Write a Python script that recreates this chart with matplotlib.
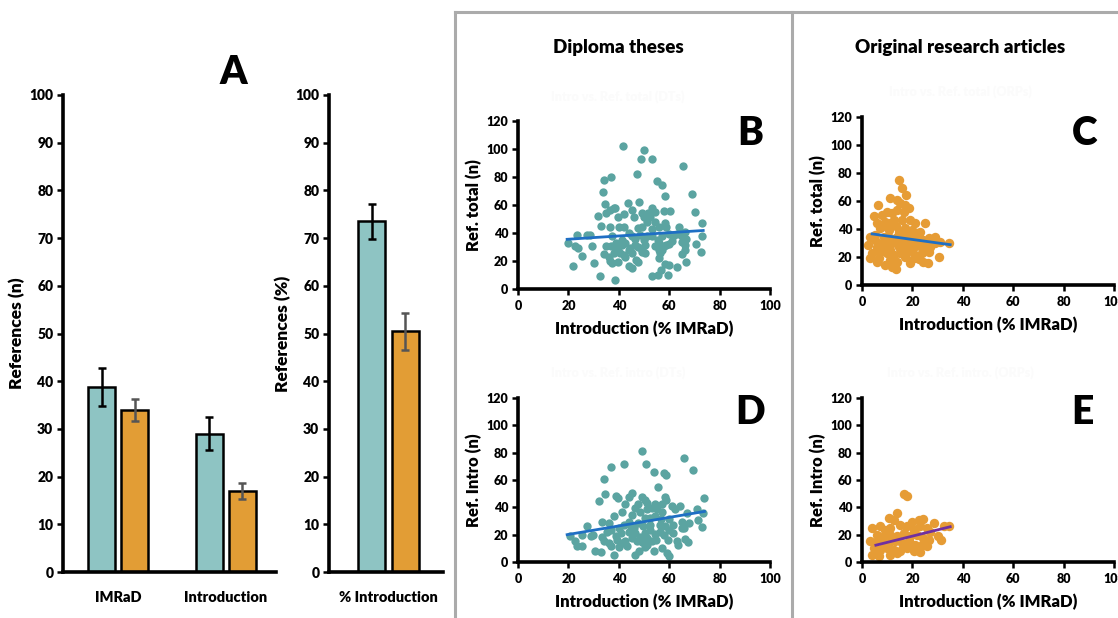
import matplotlib.pyplot as plt
from matplotlib.lines import Line2D

plt.rcParams['font.family'] = ['Lato', 'DejaVu Sans']
plt.rcParams['font.weight'] = 'heavy'
plt.rcParams['axes.labelweight'] = 'heavy'

# --- panel A: bar chart data ---
groups = ['IMRaD', 'Introduction']
dt_counts = [38.7, 29.0]
dt_err = [4.0, 3.5]
orp_counts = [34.0, 17.0]
orp_err = [2.3, 1.7]
pct_label = ['% Introduction']
dt_pct = [73.5]
dt_pct_err = [3.6]
orp_pct = [50.5]
orp_pct_err = [3.9]

# --- panel B: intro % vs total refs (diploma theses) ---
b_x = [41.7, 50.1, 48.8, 53.3, 65.3, 47.1, 37.1, 34.3, 55.0, 57.1, 33.8, 69.0, 58.4, 48.2, 43.7, 34.7,
       35.1, 36.7, 37.9, 38.3, 39.6, 42.1, 45.2, 45.9, 49.2, 49.9, 51.5, 53.0, 54.2, 58.1, 58.4, 60.4,
       70.3, 54.5, 51.1, 52.2, 31.9, 33.0, 36.7, 40.0, 42.0, 47.6, 49.3, 53.2, 56.1, 58.8, 64.0, 73.2,
       66.4, 23.6, 27.4, 28.5, 37.3, 41.3, 43.9, 45.2, 46.3, 48.5, 49.9, 51.2, 53.2, 55.4, 57.1, 59.8,
       61.7, 63.1, 65.0, 66.6, 73.0, 65.0, 61.3, 56.1, 59.8, 19.8, 22.8, 23.7, 29.4, 35.0, 37.1, 38.7,
       40.0, 41.3, 42.6, 44.6, 46.6, 47.6, 49.2, 50.5, 70.6, 66.4, 54.5, 55.8, 57.8, 58.8, 25.2, 34.3,
       36.0, 38.0, 39.3, 40.6, 42.0, 42.6, 43.9, 45.2, 49.2, 50.5, 56.5, 57.1, 65.0, 66.4, 72.6, 36.4,
       37.2, 39.7, 30.1, 21.9, 43.9, 45.2, 47.0, 47.6, 55.8, 58.4, 59.8, 62.9, 66.8, 56.9, 32.7, 38.4,
       53.3, 55.5, 59.4]
b_y = [102, 99, 93, 93, 88, 82, 80, 78, 77, 74, 69.5, 67.5, 66.4, 62.4, 61.2, 60.5,
       54.5, 56.4, 57.6, 58, 51.7, 53.4, 56.4, 51.7, 54, 51.7, 54.5, 57.6, 55.3, 55.7, 47, 56,
       55.3, 48.1, 48.1, 51.2, 52.2, 45, 44.6, 44.1, 44.6, 43.4, 44.6, 42.7, 44.6, 44.6, 44.6, 47.4,
       41, 38.7, 38.7, 38.7, 37.5, 35.1, 39.8, 37.5, 35.6, 38.7, 35.1, 37.5, 37.5, 35.1, 37.5, 39.4,
       37.5, 39.4, 37.5, 36, 37.5, 33.9, 34.4, 32.7, 32, 32.5, 30.8, 29.6, 30.6, 30.4, 30.4, 32.7,
       30.4, 31.5, 32.7, 29.2, 31.5, 29.9, 28, 31.5, 31.8, 31.5, 30.4, 28, 30.4, 31.5, 23.7, 25.1,
       23.2, 25.6, 27.5, 25.6, 24, 23.2, 28, 25.6, 26.1, 25.6, 25.6, 28, 24.9, 27.5, 26.6, 19.7,
       18.5, 19, 18.5, 16.6, 16.6, 14.9, 20.9, 19.4, 21.8, 18, 16.8, 15.7, 19.4, 13.3, 9.2, 6.6,
       9, 10.2, 10.2]

# --- panel C: intro % vs total refs (original research articles) ---
c_x = [14.5, 15.9, 17.6, 11.0, 13.9, 15.2, 17.2, 18.5, 6.2, 4.6, 7.9, 9.9, 11.9, 13.9, 16.6, 12.6,
       9.0, 5.9, 15.9, 19.2, 21.2, 25.1, 7.3, 10.6, 13.6, 17.2, 19.8, 21.8, 23.1, 3.3, 5.3, 8.6,
       11.2, 13.9, 16.5, 19.2, 22.5, 24.4, 26.4, 29.1, 31.0, 34.7, 29.1, 2.2, 5.9, 7.9, 11.2, 14.5,
       17.8, 20.5, 23.8, 25.8, 4.0, 7.3, 9.9, 12.5, 15.2, 17.8, 21.1, 23.8, 26.4, 3.3, 6.6, 11.2,
       13.9, 17.2, 20.5, 22.8, 30.4, 26.0, 13.6, 5.9, 9.2, 11.9, 19.2, 24.4, 8.6, 11.2, 14.5, 17.8,
       21.1, 19.2, 12.5, 9.2, 5.3, 15.2, 23.1, 27.1, 16.6, 8.6, 11.2, 19.2]
c_y = [75.2, 69.2, 64, 62, 60.4, 58.5, 57.3, 54.9, 57, 49, 50.1, 52.5, 51.3, 53.7, 52.5, 46.5,
       45.3, 44.2, 46.5, 46.5, 44.2, 44.6, 40.6, 39.4, 41.8, 40.6, 39.4, 37, 38.2, 34.6, 35.8, 34.6,
       33.4, 34.6, 33.4, 34.6, 34.6, 32.2, 33.4, 34.6, 31, 29.8, 29.8, 28.6, 27.4, 29.8, 28.6, 27.4,
       28.6, 27.4, 26.3, 28.6, 22.7, 23.9, 22.7, 21.5, 22.7, 23.9, 21.5, 22.7, 23.9, 19.1, 19.1, 17.9,
       16.7, 20.3, 19.1, 18.4, 20.3, 15.5, 11.2, 16.7, 14.3, 13.1, 16, 16.7, 41.8, 44.2, 38.2, 35.8,
       31, 29.8, 31, 32.2, 32.2, 31, 29.8, 27.4, 25.1, 26.3, 25.1, 25.1]

# --- panel D: intro % vs intro refs (diploma theses) ---
d_x = [49.2, 65.7, 50.8, 42.0, 37.1, 69.4, 34.2, 53.8, 57.8, 58.7, 55.4, 34.7, 38.7, 39.7, 45.2, 43.9,
       49.2, 50.3, 58.4, 58.7, 73.9, 32.1, 42.6, 47.6, 51.2, 54.2, 57.1, 61.1, 64.4, 53.2, 55.1, 62.4,
       71.0, 73.6, 67.0, 48.5, 45.2, 38.0, 33.4, 36.0, 42.0, 43.9, 47.6, 50.3, 52.2, 54.5, 56.7, 59.8,
       61.7, 65.0, 71.3, 73.0, 65.0, 27.4, 25.2, 28.8, 29.7, 33.4, 38.7, 41.0, 43.9, 46.6, 48.5, 50.5,
       52.5, 54.5, 56.5, 57.8, 59.8, 59.5, 63.1, 63.5, 66.4, 67.4, 20.8, 22.6, 23.4, 25.4, 34.0, 36.0,
       37.1, 38.0, 40.0, 41.3, 43.3, 46.6, 47.9, 50.3, 51.2, 53.8, 57.1, 59.1, 59.8, 30.5, 32.8, 39.3,
       42.6, 45.2, 47.2, 49.2, 51.2, 53.2, 54.9, 61.7, 66.0, 67.7, 44.6, 45.9, 52.5, 56.5, 58.4, 49.6,
       40.0, 37.1, 35.4, 57.1, 51.2, 46.6, 41.3]
d_y = [81.1, 76, 71.9, 71.9, 69.7, 67, 61, 65.6, 64.9, 63.6, 54.7, 49.8, 48.6, 47.1, 50.8, 47.9,
       47.9, 45.4, 47.4, 45.4, 46.6, 44.7, 42.5, 42.5, 43, 42.5, 42.5, 41.3, 41.3, 39.3, 38.6, 38.6,
       38.6, 36.2, 36.2, 36.9, 34.5, 33.8, 29.1, 28.4, 27.4, 29.1, 28.4, 32.1, 32.1, 34, 31.3, 31.3,
       27.4, 29.6, 30.8, 25.5, 24.8, 26.5, 19.4, 18.7, 19.4, 18.2, 18.7, 21.1, 22.3, 21.1, 18.2, 21.1,
       23.6, 20.4, 22.3, 19.9, 23.1, 16.3, 15.1, 12.6, 16.8, 14.3, 18.7, 15.1, 11.4, 11.4, 15.1, 13.8,
       11.4, 5.3, 10.7, 13.8, 11.4, 5.3, 7.8, 10.7, 12.6, 8.3, 10.2, 6.6, 4.6, 8.3, 7, 16.3,
       15.1, 17.5, 15.1, 14.3, 17.5, 15.1, 16.3, 21.1, 24.8, 28.4, 27.2, 24.8, 27.2, 27.2, 26, 26,
       24.8, 23.6, 22.3, 36.9, 38.6, 39.3, 36.9]

# --- panel E: intro % vs intro refs (original research articles) ---
e_x = [16.5, 17.8, 13.9, 10.6, 12.5, 19.8, 22.5, 24.4, 28.4, 32.4, 34.7, 4.0, 7.3, 9.2, 11.2, 15.2,
       17.8, 20.5, 23.1, 25.8, 27.1, 30.1, 31.2, 5.9, 8.6, 11.2, 13.9, 16.5, 19.2, 21.8, 24.4, 26.4,
       3.3, 5.3, 7.9, 10.6, 13.2, 15.9, 18.5, 21.1, 23.8, 25.8, 4.6, 7.3, 9.9, 12.5, 15.2, 17.8,
       20.5, 23.1, 6.6, 4.0, 11.2, 13.9, 8.6, 5.9]
e_y = [49.8, 48.6, 35.7, 32.1, 30.4, 29.6, 30.8, 31.3, 28.9, 26.5, 26, 24.8, 26, 23.6, 24.8, 27.2,
       26, 23.6, 26, 24.8, 22.3, 18.7, 16.3, 19.9, 18.7, 19.9, 18.7, 21.1, 18.7, 19.9, 17.5, 16.3,
       15.1, 13.8, 15.1, 13.8, 15.1, 13.8, 15.1, 12.6, 12.6, 11.4, 10.2, 9, 10.2, 9, 7.8, 10.2,
       7.8, 7, 4.1, 5.3, 5.3, 6.6, 12.6, 7.8]

# trend lines (start/end points)
b_fit_x, b_fit_y = [19.5, 73.5], [35.5, 41.8]
c_fit_x, c_fit_y = [4.0, 35.0], [36.5, 28.8]
d_fit_x, d_fit_y = [19.5, 74.0], [20.0, 37.0]
e_fit_x, e_fit_y = [5.5, 35.0], [12.3, 25.8]

teal_bar = '#8ec4c3'
orange_bar = '#e29d35'
teal_dot = '#5ba4a1'
orange_dot = '#e69c35'

fig = plt.figure(figsize=(11.18, 6.18), dpi=100)
W, H = 1118, 618


def fig_rect(x0, y_bottom, x1, y_top):
    # pixel box -> figure fractions
    return [x0 / W, 1 - y_bottom / H, (x1 - x0) / W, (y_bottom - y_top) / H]


def style_axes(ax, tick_size):
    for side in ['top', 'right']:
        ax.spines[side].set_visible(False)
    for side in ['left', 'bottom']:
        ax.spines[side].set_linewidth(2.6)
    ax.tick_params(axis='y', direction='out', length=4, width=1.8, labelsize=tick_size, pad=3)
    ax.tick_params(axis='x', direction='out', length=4, width=1.8, labelsize=tick_size, pad=4)


# ---------- panel A ----------
bw = 0.25
off = 0.155
ax1 = fig.add_axes(fig_rect(63, 572, 276, 95))
pos = list(range(len(groups)))
ax1.bar([p - off for p in pos], dt_counts, bw, color=teal_bar, edgecolor='black', linewidth=1.8)
ax1.bar([p + off for p in pos], orp_counts, bw, color=orange_bar, edgecolor='black', linewidth=1.8)
ax1.errorbar([p - off for p in pos], dt_counts, yerr=dt_err, fmt='none', ecolor='black',
             elinewidth=1.8, capsize=3, capthick=1.8)
ax1.errorbar([p + off for p in pos], orp_counts, yerr=orp_err, fmt='none', ecolor='#555555',
             elinewidth=1.8, capsize=3, capthick=1.8)
ax1.set_xlim(-0.514, 1.467)
ax1.set_ylim(0, 100)
yt = list(range(0, 101, 10))
ax1.set_yticks(yt, [str(v) for v in yt], fontweight='heavy')
ax1.set_xticks(pos, groups, fontweight='heavy')
style_axes(ax1, 10)
ax1.tick_params(axis='x', length=0, pad=14, labelsize=10.5)
ax1.set_ylabel('References (n)', fontsize=12.5, labelpad=3)

ax2 = fig.add_axes(fig_rect(329, 572, 443, 95))
ax2.bar([-off], dt_pct, bw, color=teal_bar, edgecolor='black', linewidth=1.8)
ax2.bar([off], orp_pct, bw, color=orange_bar, edgecolor='black', linewidth=1.8)
ax2.errorbar([-off], dt_pct, yerr=dt_pct_err, fmt='none', ecolor='black',
             elinewidth=1.8, capsize=3, capthick=1.8)
ax2.errorbar([off], orp_pct, yerr=orp_pct_err, fmt='none', ecolor='#555555',
             elinewidth=1.8, capsize=3, capthick=1.8)
ax2.set_xlim(-0.551, 0.505)
ax2.set_ylim(0, 100)
ax2.set_yticks(yt, [str(v) for v in yt], fontweight='heavy')
ax2.set_xticks([0], pct_label, fontweight='heavy')
style_axes(ax2, 10)
ax2.tick_params(axis='x', length=0, pad=14, labelsize=10.5)
ax2.set_ylabel('References (%)', fontsize=12.5, labelpad=3)

fig.text(233 / W, 1 - 73 / H, 'A', fontsize=28, fontweight='heavy', ha='center', va='center')

# ---------- panels B-E ----------
panels = [
    ('B', fig_rect(518, 289, 770, 121), b_x, b_y, teal_dot, b_fit_x, b_fit_y, '#1f6fc4',
     'Ref. total (n)', (750, 133), 'Intro vs. Ref. total (DTs)', (618, 97), 36),
    ('C', fig_rect(862, 285, 1114, 117), c_x, c_y, orange_dot, c_fit_x, c_fit_y, '#1f6fc4',
     'Ref. total (n)', (1085, 133), 'Intro vs. Ref. total (ORPs)', (960, 92), 46),
    ('D', fig_rect(518, 562, 770, 398), d_x, d_y, teal_dot, d_fit_x, d_fit_y, '#1f6fc4',
     'Ref. Intro (n)', (750, 412), 'Intro vs. Ref. intro (DTs)', (618, 373), 36),
    ('E', fig_rect(862, 562, 1114, 398), e_x, e_y, orange_dot, e_fit_x, e_fit_y, '#7030a0',
     'Ref. Intro (n)', (1082, 412), 'Intro vs. Ref. intro. (ORPs)', (960, 373), 46),
]

xt = list(range(0, 101, 20))
ytb = list(range(0, 121, 20))
for letter, rect, xs, ys, col, fx, fy, fcol, ylab, lpos, ghost, gpos, size in panels:
    ax = fig.add_axes(rect)
    ax.scatter(xs, ys, s=size, color=col, linewidths=0, zorder=2)
    ax.plot(fx, fy, color=fcol, linewidth=2, zorder=3)
    ax.set_xlim(0, 100)
    ax.set_ylim(0, 120)
    ax.set_xticks(xt, [str(v) for v in xt], fontweight='heavy')
    ax.set_yticks(ytb, [str(v) for v in ytb], fontweight='heavy')
    style_axes(ax, 9)
    ax.set_xlabel('Introduction (% IMRaD)', fontsize=12, labelpad=6)
    ax.set_ylabel(ylab, fontsize=12, labelpad=3)
    fig.text(lpos[0] / W, 1 - lpos[1] / H, letter, fontsize=28, fontweight='heavy',
             ha='center', va='center')
    fig.text(gpos[0] / W, 1 - gpos[1] / H, ghost, fontsize=9, color='#fbfbfb',
             ha='center', va='center')

fig.text(618 / W, 1 - 48 / H, 'Diploma theses', fontsize=13.5, fontweight='heavy',
         ha='center', va='center')
fig.text(960 / W, 1 - 48 / H, 'Original research articles', fontsize=13.5, fontweight='heavy',
         ha='center', va='center')

# gray frame lines between panels
sep = '#ababab'
fig.add_artist(Line2D([455 / W, 455 / W], [0, 1 - 12 / H], color=sep, linewidth=2.2))
fig.add_artist(Line2D([792 / W, 792 / W], [0, 1 - 12 / H], color=sep, linewidth=2.2))
fig.add_artist(Line2D([455 / W, 1], [1 - 12 / H, 1 - 12 / H], color=sep, linewidth=2.2))

plt.savefig('out.png', dpi=100)
